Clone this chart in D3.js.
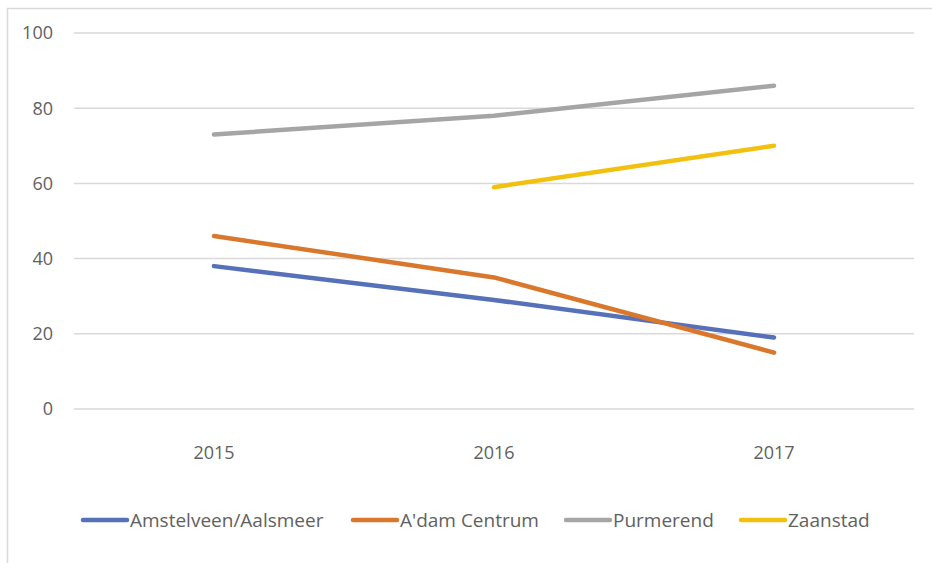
<!DOCTYPE html>
<html>
<head>
<meta charset="utf-8">
<script src="https://cdn.jsdelivr.net/npm/d3@7"></script>
<style>
  body { margin: 0; background: #fff; }
  text { font-family: "Open Sans", "Liberation Sans", sans-serif; fill: #616161; }
</style>
</head>
<body>
<div id="chart"></div>
<script>
// chart values
var years = ["2015", "2016", "2017"];
var seriesNames = ["Amstelveen/Aalsmeer", "A'dam Centrum", "Purmerend", "Zaanstad"];
var amstelveen = [38, 29, 19];
var adamCentrum = [46, 35, 15];
var purmerend = [73, 78, 86];
var zaanstad = [null, 59, 70];
var yTicks = [0, 20, 40, 60, 80, 100];

var colors = ["#5670b9", "#d9782d", "#a5a5a5", "#f2c10f"];

var width = 932,
    height = 563;

var svg = d3.select("#chart").append("svg")
    .attr("width", width)
    .attr("height", height);

// chart area border (cut off at right & bottom)
svg.append("path")
    .attr("d", "M7.5," + height + " V8.5 H" + width)
    .attr("fill", "none")
    .attr("stroke", "#d9d9d9")
    .attr("stroke-width", 1.5);

var x = d3.scaleBand()
    .domain(years)
    .range([74, 914]);

var y = d3.scaleLinear()
    .domain([0, 100])
    .range([409, 33]);

// gridlines
svg.selectAll(".grid").data(yTicks)
    .enter().append("line")
    .attr("x1", 74)
    .attr("x2", 914)
    .attr("y1", function(d) { return y(d); })
    .attr("y2", function(d) { return y(d); })
    .attr("stroke", "#d9d9d9")
    .attr("stroke-width", 1.5);

// y labels
svg.selectAll(".ylab").data(yTicks)
    .enter().append("text")
    .attr("x", 53)
    .attr("y", function(d) { return y(d); })
    .attr("dy", "0.35em")
    .attr("text-anchor", "end")
    .attr("font-size", 18)
    .text(function(d) { return d; });

// x labels
svg.selectAll(".xlab").data(years)
    .enter().append("text")
    .attr("x", function(d) { return x(d) + x.bandwidth() / 2; })
    .attr("y", 453)
    .attr("dy", "0.35em")
    .attr("text-anchor", "middle")
    .attr("font-size", 18)
    .text(function(d) { return d; });

var allSeries = [amstelveen, adamCentrum, purmerend, zaanstad];

var line = d3.line()
    .defined(function(d) { return d != null; })
    .x(function(d, i) { return x(years[i]) + x.bandwidth() / 2; })
    .y(function(d) { return y(d); });

svg.selectAll(".series").data(allSeries)
    .enter().append("path")
    .attr("d", line)
    .attr("fill", "none")
    .attr("stroke", function(d, i) { return colors[i]; })
    .attr("stroke-width", 4.5)
    .attr("stroke-linecap", "round")
    .attr("stroke-linejoin", "round");

// legend
var legendX = [83, 353, 566, 741];

var legend = svg.selectAll(".legend").data(seriesNames)
    .enter().append("g")
    .attr("transform", function(d, i) { return "translate(" + legendX[i] + ",520)"; });

legend.append("line")
    .attr("x1", 0)
    .attr("x2", 44)
    .attr("stroke", function(d, i) { return colors[i]; })
    .attr("stroke-width", 4.5)
    .attr("stroke-linecap", "round");

legend.append("text")
    .attr("x", 47)
    .attr("dy", "0.35em")
    .attr("font-size", 19)
    .text(function(d) { return d; });
</script>
</body>
</html>
